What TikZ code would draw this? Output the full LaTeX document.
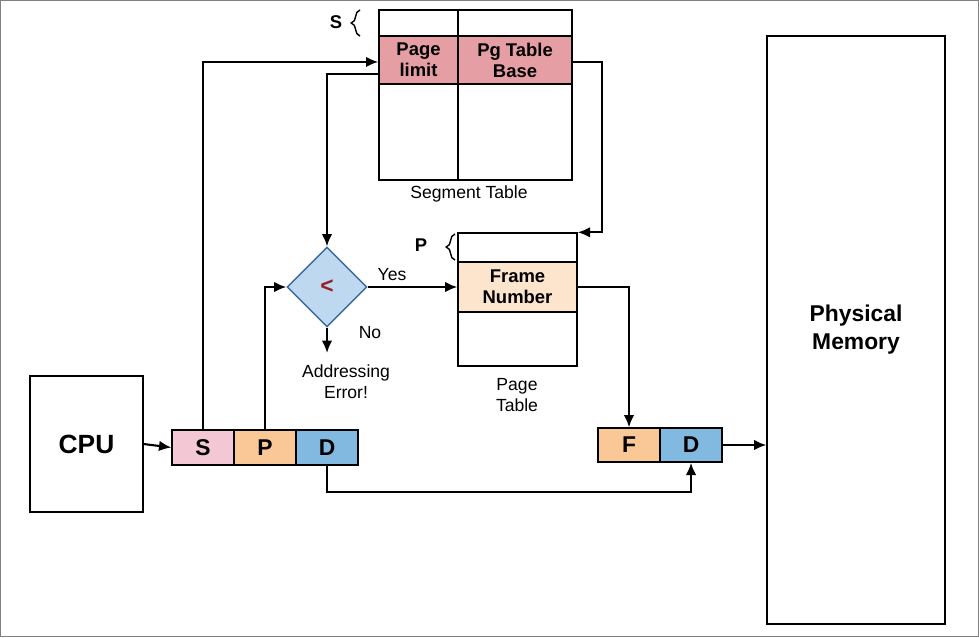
\documentclass[tikz,border=0pt]{standalone}
\usepackage{fontspec}
\setmainfont{Liberation Sans}
\usetikzlibrary{shapes.geometric,arrows.meta,decorations.pathreplacing}
\definecolor{segpink}{RGB}{230,158,165}
\definecolor{spink}{RGB}{243,200,212}
\definecolor{porange}{RGB}{250,200,150}
\definecolor{dblue}{RGB}{130,185,225}
\definecolor{fpeach}{RGB}{252,228,205}
\definecolor{dfill}{RGB}{190,216,240}
\definecolor{dline}{RGB}{55,105,155}
\definecolor{ltred}{RGB}{150,30,40}
\begin{document}
\begin{tikzpicture}[x=0.02cm,y=-0.02cm,>={Latex[length=7pt,width=6pt]},line width=1.2pt,
  cell/.style={draw,thick,rectangle,inner sep=0pt,font=\bfseries\fontsize{10.5}{12}\selectfont,align=center},
  lbl/.style={font=\fontsize{10}{12}\selectfont,align=center}]
\useasboundingbox (0,0) rectangle (979,637);
\draw[gray,line width=0.6pt] (0.5,0.5) rectangle (978.5,636.5);

\node[cell, minimum width=2.26cm, minimum height=2.72cm, font=\bfseries\fontsize{15}{18}\selectfont] (cpu) at (86.5,444) {CPU};
\node[cell, fill=spink,   minimum width=1.24cm, minimum height=0.7cm, font=\bfseries\fontsize{13}{15}\selectfont] (S) at (203,447.5) {S};
\node[cell, fill=porange, minimum width=1.24cm, minimum height=0.7cm, font=\bfseries\fontsize{13}{15}\selectfont] (P) at (265,447.5) {P};
\node[cell, fill=dblue,   minimum width=1.24cm, minimum height=0.7cm, font=\bfseries\fontsize{13}{15}\selectfont] (D) at (327,447.5) {D};

% segment table
\node[cell, minimum width=1.58cm, minimum height=0.52cm] (st0) at (418.5,23) {};
\node[cell, minimum width=2.28cm, minimum height=0.52cm] (st1) at (515,23) {};
\node[cell, fill=segpink, minimum width=1.58cm, minimum height=0.96cm] (pl) at (418.5,60) {Page\\limit};
\node[cell, fill=segpink, minimum width=2.28cm, minimum height=0.96cm] (ptb) at (515,60) {Pg Table\\Base};
\node[cell, minimum width=1.58cm, minimum height=1.92cm] (st2) at (418.5,132) {};
\node[cell, minimum width=2.28cm, minimum height=1.92cm] (st3) at (515,132) {};
\node[lbl] (stl) at (469,194) {Segment Table};
\draw[thick,decorate,decoration={brace,amplitude=5pt}] (360,36) -- (360,10);
\node[font=\bfseries\fontsize{10.5}{12}\selectfont] (sb) at (336,22) {S};

% page table
\node[cell, minimum width=2.38cm, minimum height=0.58cm] (pt0) at (517.5,247.5) {};
\node[cell, fill=fpeach, minimum width=2.38cm, minimum height=1.0cm] (fn) at (517.5,287) {Frame\\Number};
\node[cell, minimum width=2.38cm, minimum height=1.08cm] (pt2) at (517.5,339) {};
\node[lbl] (ptl) at (517,395) {Page\\Table};
\draw[thick,decorate,decoration={brace,amplitude=5pt}] (455,260) -- (455,234);
\node[font=\bfseries\fontsize{10.5}{12}\selectfont] (pb) at (421,245) {P};

% compare
\node[diamond, draw=dline, thick, fill=dfill, inner sep=0pt, minimum width=1.6cm, minimum height=1.6cm,
  font=\bfseries\fontsize{13}{15}\selectfont, text=ltred] (cmp) at (327,287) {<};
\node[lbl] (yes) at (392,275) {Yes};
\node[lbl] (no) at (370,333) {No};
\node[lbl] (err) at (346,382) {Addressing\\Error!};
\coordinate (errtop) at (327,353);

% physical address
\node[cell, fill=porange, minimum width=1.24cm, minimum height=0.68cm, font=\bfseries\fontsize{13}{15}\selectfont] (F) at (629,445) {F};
\node[cell, fill=dblue,   minimum width=1.24cm, minimum height=0.68cm, font=\bfseries\fontsize{13}{15}\selectfont] (D2) at (691,445) {D};
\node[cell, minimum width=3.56cm, minimum height=11.76cm, font=\bfseries\fontsize{13}{16}\selectfont] (mem) at (856,330) {Physical\\Memory};

\draw[->] (cpu.east) -- (S.west);
\draw[->] (S.north) |- ([yshift=-1.1pt]pl.west);
\draw[->] (P.north) |- (cmp.west);
\draw[->] ([yshift=-7.9pt]pl.west) -| (cmp.north);
\draw[->] ([yshift=-1.1pt]ptb.east) -| ([xshift=13.6pt]pt0.north east) -- (pt0.north east);
\draw[->] (cmp.east) -- (fn.west);
\draw[->] (cmp.south) -- (errtop);
\draw[->] (fn.east) -| (F.north);
\draw[->] (D.south) -- ++(0,26) -| (D2.south);
\draw[->] (D2.east) -- (D2.east -| mem.west);
\end{tikzpicture}
\end{document}
